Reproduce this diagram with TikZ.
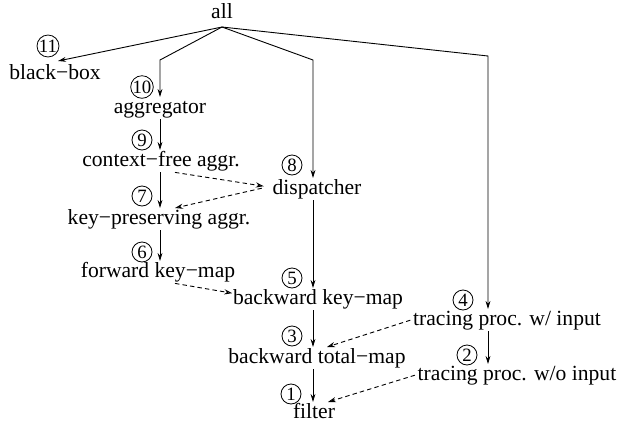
\documentclass[tikz,border=0pt]{standalone}
\usepackage{fontspec}
\setmainfont{Liberation Serif}
\usetikzlibrary{arrows.meta,calc}
\begin{document}
\begin{tikzpicture}[x=0.5pt,y=-0.5pt,
  lbl/.style={anchor=base,font=\fontsize{10.8pt}{12pt}\selectfont,text height=0.66em,text depth=0.18em,inner sep=1.2pt},
  num/.style={circle,draw,line width=0.4pt,minimum size=10pt,inner sep=0pt,font=\fontsize{9.4pt}{10pt}\selectfont},
  arr/.style={line width=0.45pt,-{Stealth[length=4pt,width=2.4pt]}},
  darr/.style={line width=0.45pt,dashed,dash pattern=on 2.2pt off 1.6pt,-{Stealth[open,length=4pt,width=2.6pt]}}]
\useasboundingbox (0,0) rectangle (618,424);
% text nodes
\node[lbl] (all) at (222,18) {all};
\node[lbl] (bb) at (55,79) {black−box};
\node[lbl] (agg) at (160,113) {aggregator};
\node[lbl] (cf) at (161,166) {context−free aggr.};
\node[lbl] (disp) at (317,194) {dispatcher};
\node[lbl] (kp) at (159,224) {key−preserving aggr.};
\node[lbl] (fk) at (158,277) {forward key−map};
\node[lbl] (bk) at (318,304) {backward key−map};
\node[lbl] (tw) at (507,325) {tracing proc. w/ input};
\node[lbl] (btm) at (317,363) {backward total−map};
\node[lbl] (two) at (517,380) {tracing proc. w/o input};
\node[lbl] (fil) at (314,418) {filter};
% numbered circles
\node[num] (n11) at (48,46) {11};
\node[num] (n10) at (142,87) {10};
\node[num] (n9) at (142,140) {9};
\node[num] (n8) at (292,165) {8};
\node[num] (n7) at (142,196) {7};
\node[num] (n6) at (142,252) {6};
\node[num] (n5) at (292,278) {5};
\node[num] (n4) at (463,300) {4};
\node[num] (n3) at (292,336) {3};
\node[num] (n2) at (467,355) {2};
\node[num] (n1) at (291,394) {1};
% bend coordinates
\coordinate (top) at (222,27);
\coordinate (bbend) at (58,61);
\coordinate (ca) at (160,60);
\coordinate (cd) at (313,60);
\coordinate (ct) at (488,56);
% solid connectors
\draw[arr] (top) -- (bbend);
\draw[arr] (top) -- (ca) -- (agg.north -| ca);
\draw[arr] (top) -- (cd) -- (disp.north -| cd);
\draw[arr] (top) -- (ct) -- (tw.north -| ct);
\draw[arr] (agg.south -| ca) -- (cf.north -| ca);
\draw[arr] (cf.south -| ca) -- (kp.north -| ca);
\draw[arr] (kp.south -| ca) -- (fk.north -| ca);
\draw[arr] (disp.south -| cd) -- (bk.north -| cd);
\draw[arr] (bk.south -| cd) -- (btm.north -| cd);
\draw[arr] (btm.south -| cd) -- (fil.north -| cd);
\draw[arr] (tw.south -| ct) -- (two.north -| ct);
% dashed connectors
\draw[darr] ($(cf.south)+(14,0)$) -- ($(disp.west)+(-6,-3)$);
\draw[darr] ($(disp.west)+(-8,-1)$) -- ($(kp.north)+(16,0)$);
\draw[darr] ($(fk.south)+(17,0)$) -- ($(bk.west)+(2,-6)$);
\draw[darr] (tw.west) -- ($(btm.north)+(10,0)$);
\draw[darr] (two.west) -- ($(fil.north)+(14,0)$);
\end{tikzpicture}
\end{document}
